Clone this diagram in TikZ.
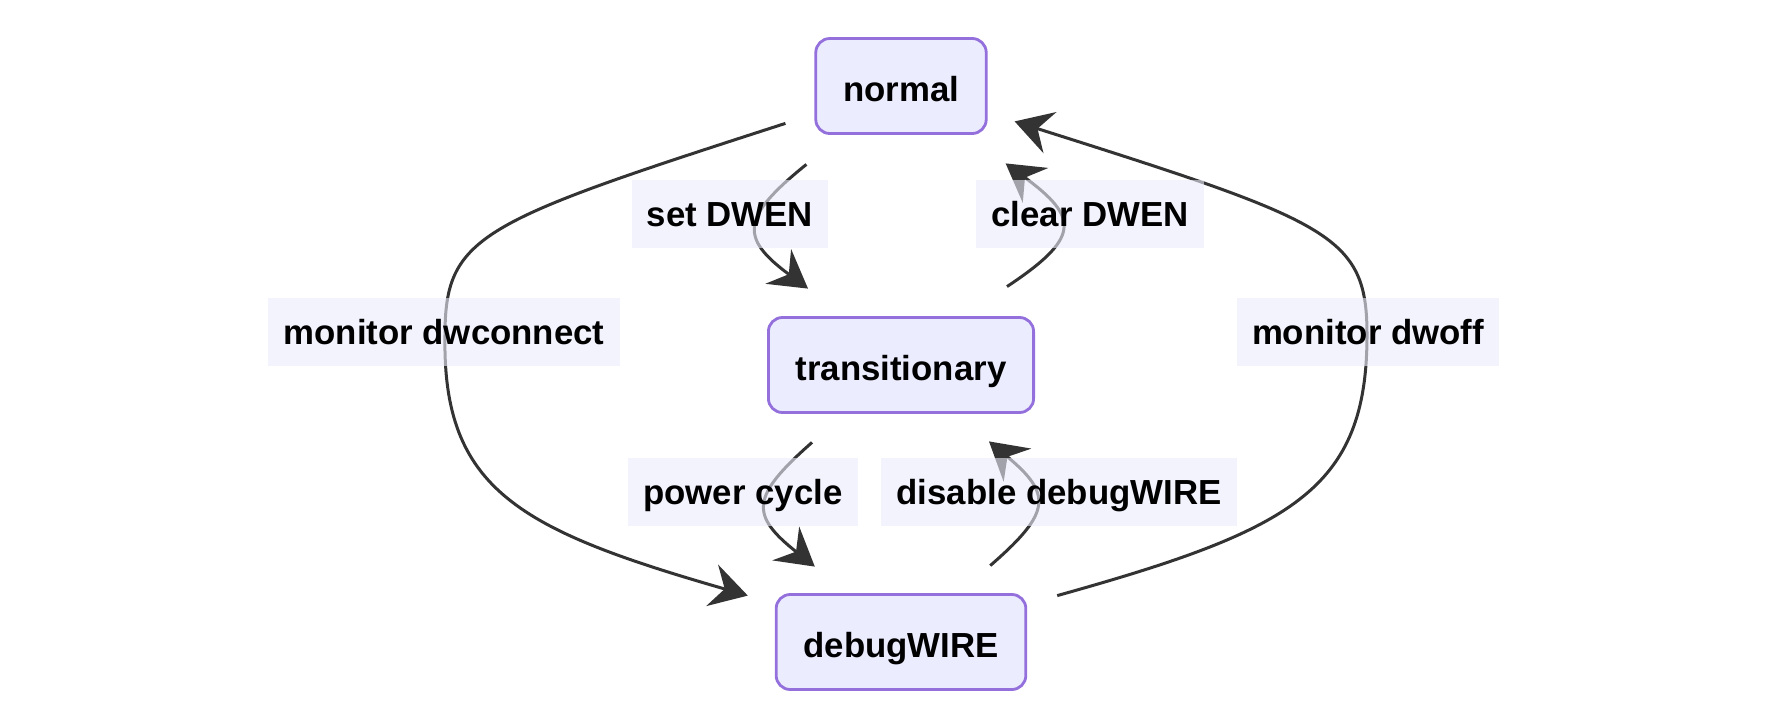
\documentclass[tikz,border=0pt]{standalone}
\usepackage{fontspec}
\setmainfont{Liberation Sans}
\usetikzlibrary{positioning, arrows.meta, calc}
\definecolor{stateline}{HTML}{9370DB}
\definecolor{statefill}{HTML}{ECECFF}
\definecolor{labelfill}{HTML}{ECECFC}
\definecolor{flowgray}{HTML}{333333}

\begin{document}
\begin{tikzpicture}[x=0.5pt, y=-0.5pt,
    every node/.style={font=\fontsize{17.4}{20}\selectfont\bfseries},
    state/.style={draw=stateline, fill=statefill, line width=1.4pt, rounded corners=7pt,
                  minimum height=47.5pt, inner xsep=13.6pt, text height=15.5pt, text depth=0.5pt},
    edgelabel/.style={fill=labelfill, fill opacity=0.6, text opacity=1,
                      minimum height=34pt, inner xsep=7.6pt, text height=12.5pt, text depth=0.5pt},
    flow/.style={draw=flowgray, line width=1.5pt,
                 -{Stealth[length=18.5pt, width=21.5pt, inset=6.5pt]}}]
  \path[use as bounding box, fill=white] (0,0) rectangle (1782,702);

  % states
  \node[state] (normal) at (901,86)  {normal};
  \node[state] (trans)  at (901,365) {transitionary};
  \node[state] (dw)     at (901,642) {debugWIRE};

  % outer loop
  \draw[flow] ($(normal.south west)+(-29,-11.5)$) .. controls (480,222) and (445,235) .. (445,335)
              .. controls (442,490) and (520,530) .. ($(dw.north west)+(-27,2.5)$);
  \draw[flow] ($(dw.north east)+(30,2.5)$) .. controls (1292,530) and (1367,490) .. (1367,335)
              .. controls (1367,235) and (1332,222) .. ($(normal.south east)+(27,-13.5)$);

  % inner steps
  \draw[flow] ($(normal.south west)+(-8,29.5)$) .. controls (740,218) and (740,238) .. ($(trans.north west)+(41,-27.5)$);
  \draw[flow] ($(trans.north east)+(-28,-29.5)$) .. controls (1080,238) and (1080,218) .. ($(normal.south east)+(18,28.5)$);
  \draw[flow] ($(trans.south west)+(45,28.5)$) .. controls (750,497) and (750,515) .. ($(dw.north west)+(40,-26.5)$);
  \draw[flow] ($(dw.north east)+(-37,-27.5)$) .. controls (1052,512) and (1052,494) .. ($(trans.south east)+(-46,27.5)$);

  % labels
  \node[edgelabel] (lset)     at (730,214)  {set DWEN};
  \node[edgelabel] (lclear)   at (1090,214) {clear DWEN};
  \node[edgelabel] (lconnect) at (444,332)  {monitor dwconnect};
  \node[edgelabel] (loff)     at (1368,332) {monitor dwoff};
  \node[edgelabel] (lpower)   at (743,492)  {power cycle};
  \node[edgelabel] (ldisable) at (1059,492) {disable debugWIRE};
\end{tikzpicture}
\end{document}
